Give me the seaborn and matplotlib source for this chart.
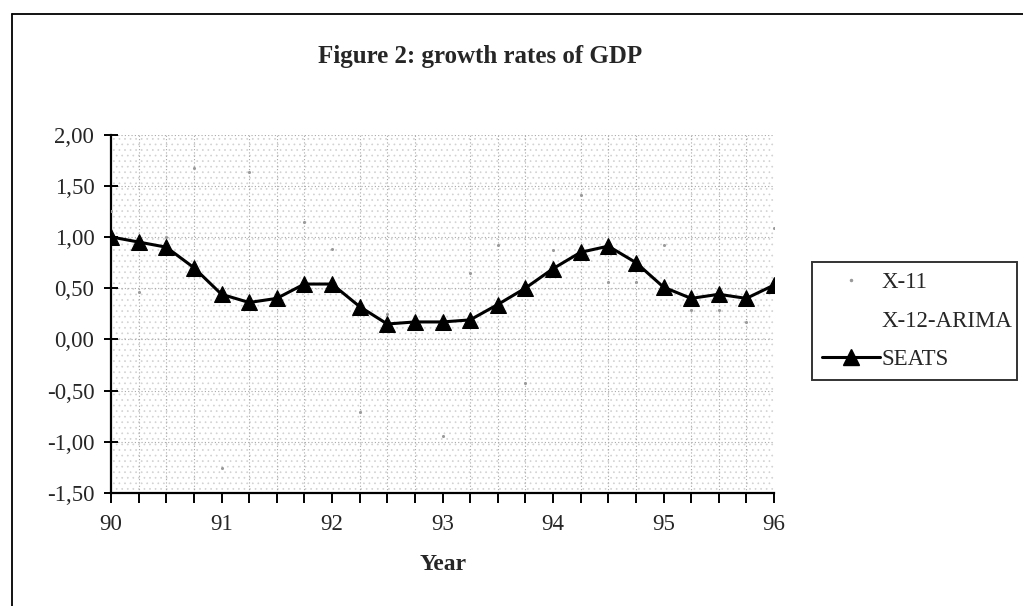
import numpy as np
import matplotlib
matplotlib.use("Agg")
import matplotlib.pyplot as plt
from matplotlib.lines import Line2D
from matplotlib.ticker import FuncFormatter, MultipleLocator
import seaborn as sns

# Quarterly growth rates of GDP, 1990Q1 .. 1996Q1
quarters = np.arange(90.0, 96.001, 0.25)

seats = [1.00, 0.95, 0.90, 0.70, 0.44, 0.36, 0.40, 0.54, 0.54, 0.32, 0.15, 0.17,
         0.17, 0.19, 0.34, 0.50, 0.69, 0.85, 0.91, 0.75, 0.51, 0.40, 0.44, 0.40, 0.53]

x11 = [1.25, 0.46, 1.00, 1.67, -1.26, 1.63, 0.40, 1.15, 0.88, -0.71, 0.25, 0.10,
       -0.94, 0.65, 0.92, -0.43, 0.87, 1.41, 0.56, 0.56, 0.92, 0.29, 0.29, 0.17, 1.09]

year_ticks = [90, 91, 92, 93, 94, 95, 96]
y_ticks = [-1.5, -1.0, -0.5, 0.0, 0.5, 1.0, 1.5, 2.0]

sns.set_theme(style="white")
plt.rcParams["font.family"] = ["Liberation Serif", "DejaVu Serif"]
plt.rcParams["hatch.linewidth"] = 0.5

W, H = 1023, 606
fig = plt.figure(figsize=(W / 100, H / 100), dpi=100)
ax = fig.add_axes([111 / W, 1 - 493 / H, (774 - 111) / W, (493 - 134.5) / H])

# stippled plot area
ax.set_facecolor("white")
ax.patch.set_hatch("...")
ax.patch.set_edgecolor("#d2d2d2")

ax.set_xlim(90, 96)
ax.set_ylim(-1.5, 2.0)

# X-11: faint dots only
sns.scatterplot(x=quarters, y=x11, ax=ax, color="#9a9a9a", s=5, linewidth=0,
                zorder=3, legend=False)

# SEATS: black line with triangle markers
sns.lineplot(x=quarters, y=seats, ax=ax, color="black", linewidth=2.2,
             marker="^", markersize=11, markeredgecolor="black",
             markerfacecolor="black", zorder=4, legend=False)

ax.grid(True, which="major", axis="y", linestyle=(0, (1, 2)), color="#a8a8a8", linewidth=0.8)
ax.grid(True, which="minor", axis="x", linestyle=(0, (1, 2)), color="#a8a8a8", linewidth=0.8)
ax.set_axisbelow(True)

ax.set_xticks(year_ticks)
ax.set_xticklabels([str(y) for y in year_ticks])
ax.xaxis.set_minor_locator(MultipleLocator(0.25))
ax.set_yticks(y_ticks)
ax.yaxis.set_major_formatter(FuncFormatter(lambda v, p: f"{v:.2f}".replace(".", ",")))

for side in ("top", "right"):
    ax.spines[side].set_visible(False)
for side in ("left", "bottom"):
    ax.spines[side].set_color("black")
    ax.spines[side].set_linewidth(1.6)

ax.tick_params(axis="x", which="both", direction="out", length=7, width=1.4,
               color="black", bottom=True, labelsize=16.5, pad=8)
ax.tick_params(axis="y", which="major", direction="inout", length=10, width=1.4,
               color="black", left=True, labelsize=16.5, pad=7)
ax.set_xlabel("")
ax.set_ylabel("")

fig.text(480 / W, 1 - 57 / H, "Figure 2: growth rates of GDP", ha="center", va="center",
         fontsize=18, fontweight="bold")
fig.text(443.5 / W, 1 - 564 / H, "Year", ha="center", va="center",
         fontsize=17, fontweight="bold")

# outer chart frame
fig.add_artist(Line2D([12 / W, 12 / W], [0, 1 - 13.5 / H], transform=fig.transFigure,
                      color="black", linewidth=1.3))
fig.add_artist(Line2D([12 / W, 1], [1 - 13.5 / H, 1 - 13.5 / H], transform=fig.transFigure,
                      color="black", linewidth=1.3))

handles = [
    Line2D([], [], linestyle="none", marker=".", markersize=3, color="#9a9a9a"),
    Line2D([], [], linestyle="none"),
    Line2D([], [], color="black", linewidth=2.2, marker="^", markersize=11),
]
leg = fig.legend(handles, ["X-11", "X-12-ARIMA", "SEATS"],
                 loc="upper left", bbox_to_anchor=(812 / W, 1 - 262 / H, (1017 - 812) / W, 0),
                 mode="expand", fontsize=16.5, frameon=True, fancybox=False, shadow=False,
                 handlelength=2.5, handletextpad=0.1, labelspacing=0.75, borderpad=0.45,
                 borderaxespad=0)
leg.get_frame().set_edgecolor("black")
leg.get_frame().set_linewidth(1.4)

fig.savefig("out.png", dpi=100, facecolor="white")
